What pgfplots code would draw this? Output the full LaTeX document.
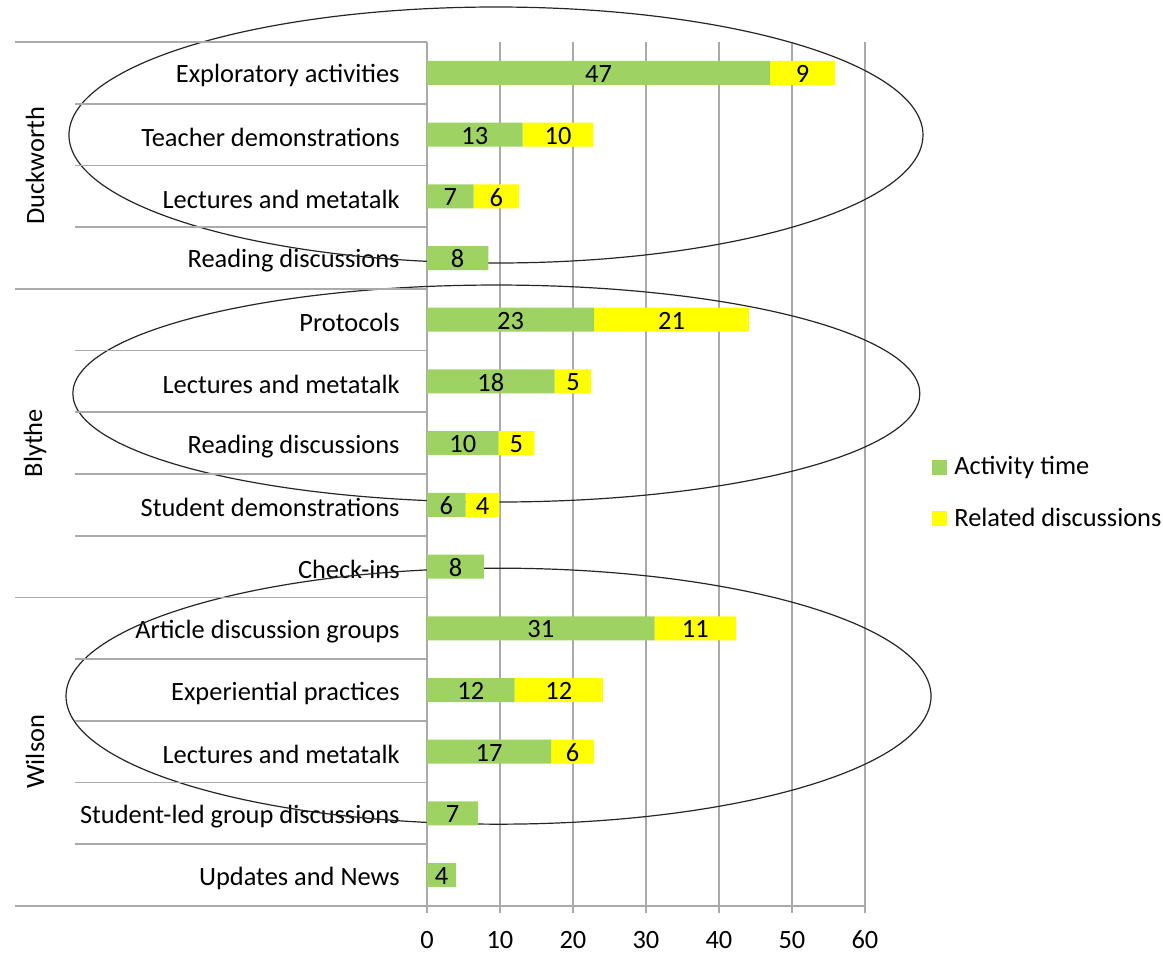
\documentclass[border=0pt]{standalone}
\usepackage{pgfplots}
\pgfplotsset{compat=1.18}
\usepackage{pgfplotstable}
\usepackage{fontspec}
\setmainfont{Carlito}
\definecolor{barGreen}{RGB}{158,210,98}
\definecolor{barYellow}{RGB}{255,255,0}
\definecolor{lineGray}{RGB}{170,170,170}

\pgfplotstableread{
y g gl r rl
0 47.0 47 8.9 9
1 13.1 13 9.7 10
2 6.4 7 6.2 6
3 8.4 8 0 0
4 22.9 23 21.2 21
5 17.5 18 5.0 5
6 9.8 10 4.9 5
7 5.3 6 4.6 4
8 7.8 8 0 0
9 31.2 31 11.1 11
10 12.0 12 12.1 12
11 17.0 17 5.9 6
12 7.0 7 0 0
13 4.0 4 0 0
}\data

\begin{document}
\begin{tikzpicture}[font=\fontsize{13.2}{15.8}\selectfont]
\begin{axis}[
  scale only axis, width=219pt, height=432pt,
  xmin=0, xmax=60, ymin=-0.5, ymax=13.5, y dir=reverse,
  xbar stacked, bar width=12pt,
  clip=false,
  /pgf/number format/assume math mode=true,
  xtick={0,10,...,60},
  xmajorgrids, grid style={lineGray, line width=0.9pt},
  axis lines=left,
  axis line style={lineGray, line width=0.9pt, -},
  xtick align=outside, ytick align=inside,
  major tick length=3.5pt,
  xtick style={lineGray, line width=0.9pt},
  ytick style={draw=none},
  ytick={0,...,13},
  yticklabels={Exploratory activities, Teacher demonstrations, Lectures and metatalk, Reading discussions, Protocols, Lectures and metatalk, Reading discussions, Student demonstrations, Check-ins, Article discussion groups, Experiential practices, Lectures and metatalk, Student-led group discussions, Updates and News},
  yticklabel style={anchor=east, inner sep=0pt, xshift=-13.5pt, yshift=-1.5pt},
  xticklabel style={yshift=-5.5pt},
  point meta=explicit,
  nodes near coords={\pgfmathfloatifflags{\pgfplotspointmeta}{0}{}{\pgfmathprintnumber{\pgfplotspointmeta}}},
  nodes near coords style={anchor=center, text=black, yshift=-0.5pt},
  legend style={draw=none, fill=none, at={(1.153,0.478)}, anchor=west, inner sep=0pt,
    nodes={inner sep=0pt, anchor=west}, row sep=15pt, column sep=3.5pt},
]
\addplot[fill=barGreen, draw=none,
  legend image code/.code={\fill[barGreen] (0pt,-3.75pt) rectangle (7.5pt,3.75pt);}]
  table[x=g, y=y, meta=gl] {\data};
\addlegendentry{Activity time}
\addplot[fill=barYellow, draw=none,
  legend image code/.code={\fill[barYellow] (0pt,-3.75pt) rectangle (7.5pt,3.75pt);}]
  table[x=r, y=y, meta=rl] {\data};
\addlegendentry{Related discussions}

% separators
\pgfplotsinvokeforeach{0.5,1.5,2.5,4.5,5.5,6.5,7.5,9.5,10.5,11.5,12.5}{
  \draw[lineGray, line width=0.9pt] (axis cs:-48.2,#1) -- (axis cs:0,#1);
}
\pgfplotsinvokeforeach{-0.5,3.5,8.5,13.5}{
  \draw[lineGray, line width=0.9pt] (axis cs:-56.4,#1) -- (axis cs:0,#1);
}
% group labels
\node[rotate=90, anchor=center] at (axis cs:-53.7,1.5) {Duckworth};
\node[rotate=90, anchor=center] at (axis cs:-53.7,6) {Blythe};
\node[rotate=90, anchor=center] at (axis cs:-53.7,11) {Wilson};
% ellipses
\draw[black!85, line width=0.6pt] (axis cs:9.45,1.007) ellipse [x radius=213.5pt, y radius=64pt];
\draw[black!85, line width=0.6pt] (axis cs:9.5,5.196) ellipse [x radius=211.75pt, y radius=54.25pt];
\draw[black!85, line width=0.6pt] (axis cs:9.8,10.10) ellipse [x radius=216.25pt, y radius=64pt];
\coordinate (O) at (rel axis cs:0,0);
\end{axis}
\pgfresetboundingbox
\path ([shift={(-213.5pt,-23.5pt)}]O) rectangle ([shift={(368pt,453pt)}]O);
\end{tikzpicture}
\end{document}
